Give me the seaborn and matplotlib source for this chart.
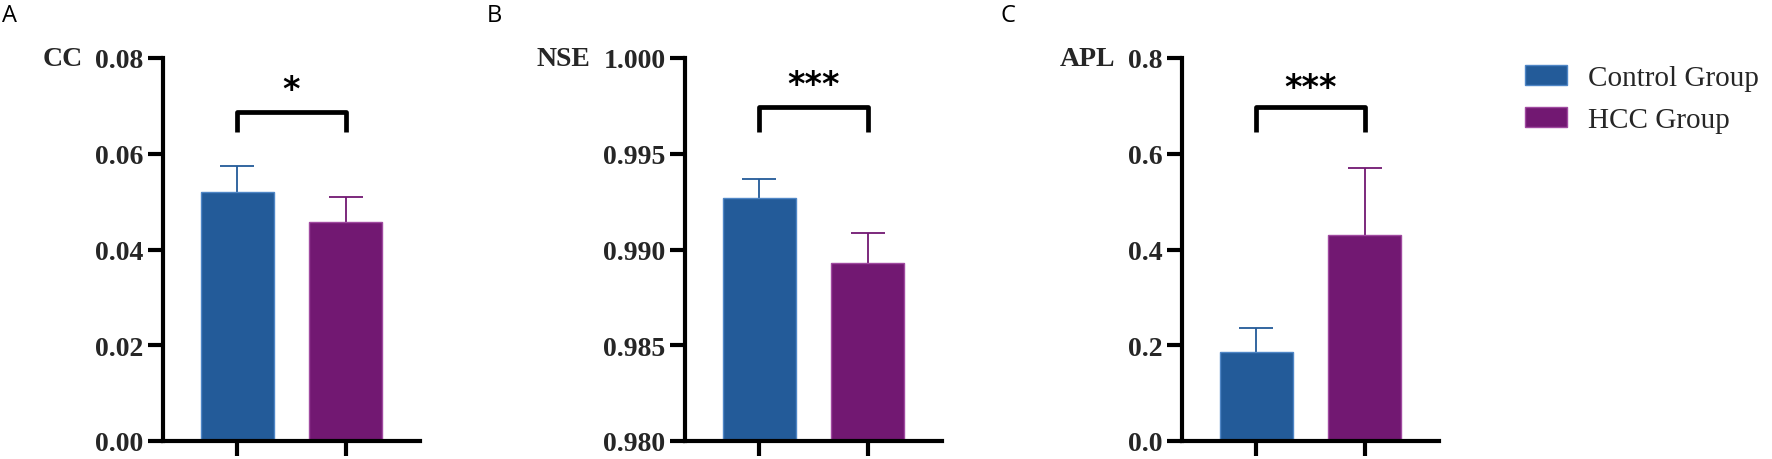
import pandas as pd
import matplotlib.pyplot as plt
import seaborn as sns
from matplotlib.patches import Patch

# group means and upper error (SD)
groups = ['Control Group', 'HCC Group']
cc_mean = [0.0521, 0.0458]
cc_err = [0.0054, 0.0052]
nse_mean = [0.99270, 0.98930]
nse_err = [0.00098, 0.00158]
apl_mean = [0.186, 0.430]
apl_err = [0.050, 0.140]

metrics = ['CC', 'NSE', 'APL']
panel_letters = ['A', 'B', 'C']
stars = ['*', '***', '***']
ylims = [(0, 0.08), (0.98, 1.0), (0, 0.8)]
yticks = [[0, 0.02, 0.04, 0.06, 0.08],
          [0.980, 0.985, 0.990, 0.995, 1.000],
          [0, 0.2, 0.4, 0.6, 0.8]]
tick_fmt = ['{:.2f}', '{:.3f}', '{:.1f}']
bracket_y = [(0.0645, 0.0687), (0.99614, 0.99744), (0.645, 0.698)]
star_y = [0.0735, 0.9986, 0.738]

colors = ['#235b99', '#721872']
edges = ['#4f86c6', '#a04aa0']

sns.set_theme(style='white')
plt.rcParams['font.family'] = ['Liberation Serif', 'DejaVu Serif']

W, H = 1772, 460
fig = plt.figure(figsize=(W / 100, H / 100), dpi=100)

means = [cc_mean, nse_mean, apl_mean]
errs = [cc_err, nse_err, apl_err]
lefts = [163, 685, 1182]
letter_x = [2, 487, 1000]

for i in range(3):
    ax = fig.add_axes([lefts[i] / W, 1 - 442 / H, 257 / W, 383 / H])
    df = pd.DataFrame({'group': groups, 'value': means[i]})
    sns.barplot(data=df, x='group', y='value', hue='group', palette=colors,
                saturation=1, errorbar=None, width=0.67, legend=False, ax=ax)
    for p, ec in zip(ax.patches, edges):
        p.set_edgecolor(ec)
        p.set_linewidth(1)
        p.set_zorder(2)
    # upper-only error bars: stem + cap
    for j in range(2):
        top = means[i][j] + errs[i][j]
        ax.vlines(j, means[i][j], top, color=colors[j], lw=1.3, zorder=1)
        ax.plot(j, top, marker='_', markersize=25, mew=1.3, color=colors[j], zorder=1)
    ax.set_xlim(-0.68, 1.68)
    ax.set_ylim(*ylims[i])
    ax.set_yticks(yticks[i])
    ax.set_yticklabels([tick_fmt[i].format(v) for v in yticks[i]],
                       fontsize=20, fontweight='bold')
    ax.set_xticks([0, 1])
    ax.set_xticklabels([])
    ax.set_xlabel('')
    ax.set_ylabel(metrics[i], rotation=0, ha='right', va='center',
                  fontsize=20, fontweight='bold', labelpad=9)
    ax.yaxis.label.set_y(1.0)
    ax.tick_params(axis='both', direction='out', length=11, width=3,
                   color='black', pad=3, left=True, bottom=True)
    sns.despine(ax=ax)
    for s in ['left', 'bottom']:
        ax.spines[s].set_linewidth(3)
        ax.spines[s].set_color('black')

    # significance bracket
    y0, y1 = bracket_y[i]
    ax.plot([0, 0, 1, 1], [y0, y1, y1, y0], color='black', lw=3.4,
            solid_joinstyle='round', solid_capstyle='butt', clip_on=False)
    ax.text(0.5, star_y[i], stars[i], ha='center', va='center', fontsize=24,
            family='DejaVu Sans', fontweight='bold', color='black')

    fig.text(letter_x[i] / W, 1 - 4 / H, panel_letters[i], ha='left', va='top',
             fontsize=17, family='Open Sans', color='black')

handles = [Patch(facecolor=colors[k], edgecolor=edges[k], linewidth=1) for k in range(2)]
fig.legend(handles, groups, loc='upper left', bbox_to_anchor=(1525 / W, 1 - 66 / H),
           frameon=False, fontsize=21, handlelength=1.45, handleheight=0.66,
           handletextpad=0.72, labelspacing=0.55, borderpad=0, borderaxespad=0)

fig.savefig('out.png', dpi=100)
